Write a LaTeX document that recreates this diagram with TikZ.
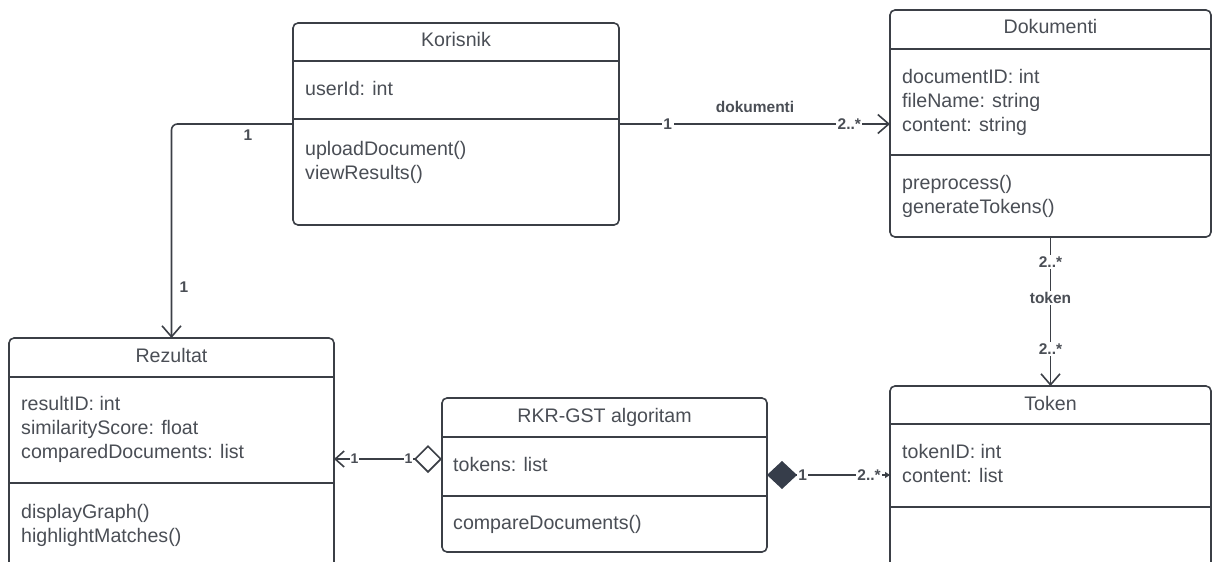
\documentclass[tikz,border=0pt]{standalone}
\usepackage{fontspec}
\setmainfont{Liberation Sans}
\usetikzlibrary{arrows.meta,calc}
\definecolor{ln}{HTML}{3B3F46}
\definecolor{tx}{HTML}{4A4E55}
\definecolor{dia}{HTML}{363D4A}
\begin{document}
\begin{tikzpicture}[x=1pt,y=-1pt,
  box/.style={draw=ln,line width=1.6pt,rounded corners=5pt,fill=white,inner sep=0pt,outer sep=0pt,anchor=north west},
  sep/.style={draw=ln,line width=1.6pt},
  ttl/.style={text=tx,font=\fontsize{19.6}{24}\selectfont,inner sep=0pt,anchor=base},
  att/.style={text=tx,font=\fontsize{19.6}{24}\selectfont,inner sep=0pt,anchor=base west},
  conn/.style={draw=ln,line width=1.6pt},
  lbl/.style={text=tx,font=\bfseries\fontsize{15.5}{17}\selectfont,fill=white,inner sep=1.5pt},
  lbls/.style={text=tx,font=\bfseries\fontsize{14}{16}\selectfont,fill=white,inner sep=1pt},
  lblp/.style={text=tx,font=\bfseries\fontsize{15.5}{17}\selectfont,inner sep=1pt},
  barb/.style={-{Straight Barb[length=11pt,width=19pt,line width=1.6pt]}}
]
\path[use as bounding box] (0,0) rectangle (1213,562);
\clip (0,0) rectangle (1213,562);

% ---------- Korisnik ----------
\node[box,minimum width=326pt,minimum height=202pt] (kor) at (293,23) {};
\draw[sep] (kor.west |- 0,61) -- (kor.east |- 0,61);
\draw[sep] (kor.west |- 0,119) -- (kor.east |- 0,119);
\node[ttl] (korT) at (456,46) {Korisnik};
\node[att] (korA1) at (305,95) {userId: int};
\node[att] (korO1) at (305,155) {uploadDocument()};
\node[att] (korO2) at (305,179) {viewResults()};

% ---------- Dokumenti ----------
\node[box,minimum width=321pt,minimum height=227pt] (dok) at (890,10) {};
\draw[sep] (dok.west |- 0,49) -- (dok.east |- 0,49);
\draw[sep] (dok.west |- 0,155) -- (dok.east |- 0,155);
\node[ttl] (dokT) at (1050.5,34) {Dokumenti};
\node[att] (dokA1) at (902,83) {documentID: int};
\node[att] (dokA2) at (902,107) {fileName: string};
\node[att] (dokA3) at (902,131) {content: string};
\node[att] (dokO1) at (902,189) {preprocess()};
\node[att] (dokO2) at (902,213) {generateTokens()};

% ---------- Rezultat ----------
\node[box,minimum width=325pt,minimum height=262pt] (rez) at (9,338) {};
\draw[sep] (rez.west |- 0,377) -- (rez.east |- 0,377);
\draw[sep] (rez.west |- 0,483) -- (rez.east |- 0,483);
\node[ttl] (rezT) at (171.5,362) {Rezultat};
\node[att] (rezA1) at (21,410) {resultID: int};
\node[att] (rezA2) at (21,434) {similarityScore: float};
\node[att] (rezA3) at (21,458) {comparedDocuments: list};
\node[att] (rezO1) at (21,518) {displayGraph()};
\node[att] (rezO2) at (21,542) {highlightMatches()};

% ---------- RKR-GST algoritam ----------
\node[box,minimum width=325pt,minimum height=154pt] (rkr) at (442,398) {};
\draw[sep] (rkr.west |- 0,437) -- (rkr.east |- 0,437);
\draw[sep] (rkr.west |- 0,496) -- (rkr.east |- 0,496);
\node[ttl] (rkrT) at (604.5,422) {RKR-GST algoritam};
\node[att] (rkrA1) at (453,471) {tokens: list};
\node[att] (rkrO1) at (453,529) {compareDocuments()};

% ---------- Token ----------
\node[box,minimum width=321pt,minimum height=214pt] (tok) at (890,386) {};
\draw[sep] (tok.west |- 0,424) -- (tok.east |- 0,424);
\draw[sep] (tok.west |- 0,507) -- (tok.east |- 0,507);
\node[ttl] (tokT) at (1050.5,410) {Token};
\node[att] (tokA1) at (902,458) {tokenID: int};
\node[att] (tokA2) at (902,482) {content: list};

% ---------- Connectors ----------
% Korisnik -> Rezultat
\draw[conn,barb,rounded corners=6pt] (kor.west) -| (rez.north);
\node[lblp] (l1) at (248,135) {1};
\node[lblp] (l2) at (184,287) {1};

% Korisnik -> Dokumenti
\draw[conn,barb] (kor.east) -- (kor.east -| dok.west)
  node[lbl,pos=0.18] (l3) {1}
  node[lbl,pos=0.85] (l4) {2..*};
\node[lblp] (l5) at (755,107) {dokumenti};

% Dokumenti -> Token
\draw[conn,barb] (dok.south) -- (tok.north)
  node[lbl,pos=0.17] (l6) {2..*}
  node[lbl,pos=0.41] (l7) {token}
  node[lbl,pos=0.75] (l8) {2..*};

% Aggregation RKR -> Rezultat
\coordinate (ag) at ($(rkr.west)+(0,-16)$);
\draw[conn,{Diamond[open,length=28pt,width=28pt,line width=1.6pt]}-{Straight Barb[length=9pt,width=16pt,line width=1.6pt]}]
  (ag) -- (ag -| rez.east)
  node[lbls,pos=0.31] (l9) {1}
  node[lbls,pos=0.81] (l10) {1};

% Composition RKR -> Token
\draw[conn,line width=1.3pt,{Diamond[length=30pt,width=28pt,fill=dia,color=dia]}-{Triangle[length=5pt,width=6pt]}]
  (rkr.east) -- (rkr.east -| tok.west)
  node[lbl,pos=0.29] (l11) {1}
  node[lbl,pos=0.83] (l12) {2..*};
\end{tikzpicture}
\end{document}
